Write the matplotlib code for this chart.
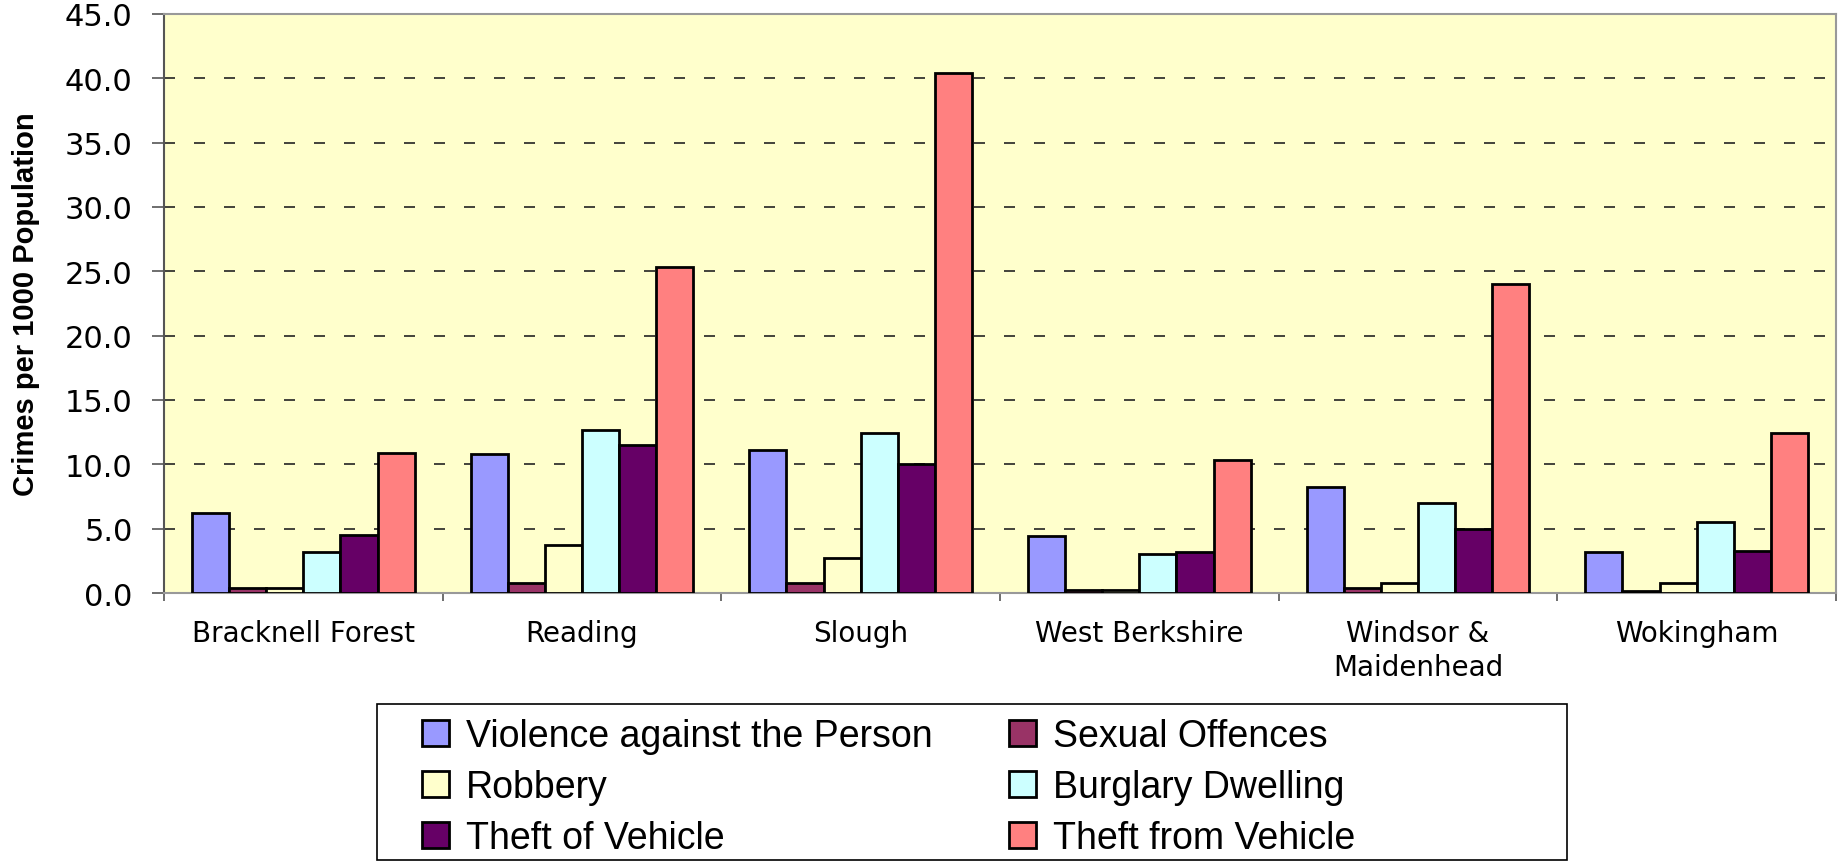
import matplotlib
matplotlib.use("Agg")
import matplotlib.pyplot as plt
from matplotlib.patches import Rectangle
import numpy as np

areas = ["Bracknell Forest", "Reading", "Slough", "West Berkshire",
         "Windsor &\nMaidenhead", "Wokingham"]
series_names = ["Violence against the Person", "Sexual Offences", "Robbery",
                "Burglary Dwelling", "Theft of Vehicle", "Theft from Vehicle"]
violence = [6.25, 10.8, 11.1, 4.45, 8.2, 3.15]
sexual = [0.4, 0.75, 0.75, 0.25, 0.4, 0.12]
robbery = [0.4, 3.7, 2.7, 0.25, 0.75, 0.75]
burglary = [3.15, 12.7, 12.4, 3.0, 7.0, 5.5]
theft_of = [4.5, 11.5, 10.0, 3.15, 4.95, 3.3]
theft_from = [10.9, 25.3, 40.4, 10.3, 24.0, 12.4]
yticks = [0, 5, 10, 15, 20, 25, 30, 35, 40, 45]

colors = ["#9999FF", "#993366", "#FFFFCC", "#CCFFFF", "#660066", "#FF8080"]
data = [violence, sexual, robbery, burglary, theft_of, theft_from]

W, H = 1838, 862
fig = plt.figure(figsize=(W / 100, H / 100), dpi=100)
ax = fig.add_axes([164 / W, 1 - 594 / H, (1836 - 164) / W, (594 - 15) / H])
ax.set_facecolor("#FFFFCC")

n = len(areas)
x = np.arange(n)
bw = 1.0 / 7.5
for i, (vals, c, name) in enumerate(zip(data, colors, series_names)):
    ax.bar(x + (i - 2.5) * bw, vals, width=bw, color=c, edgecolor="black",
           linewidth=2.0, label=name, zorder=3)

ax.set_xlim(-0.5, n - 0.5)
ax.set_ylim(0, 45)
ax.set_yticks(yticks)
ax.set_yticklabels([f"{v:.1f}" for v in yticks], fontsize=22,
                   fontfamily="DejaVu Sans")
for v in yticks[1:-1]:
    ax.axhline(v, color="#222222", linewidth=1.2,
               linestyle=(0, (6.6, 11.4)), zorder=1)

ax.set_xticks(np.arange(n + 1) - 0.5)
ax.set_xticklabels([])
ax.set_xticks(x, minor=True)
ax.set_xticklabels(areas, minor=True, fontsize=20, fontfamily="DejaVu Sans",
                   linespacing=1.25)
ax.tick_params(axis="x", which="minor", length=0, pad=19)
ax.tick_params(axis="x", which="major", length=6, width=1.2, color="#555555")
ax.tick_params(axis="y", length=8.6, width=1.2, color="#555555", pad=14)

for s in ["top", "right", "bottom"]:
    ax.spines[s].set_color("#999999")
    ax.spines[s].set_linewidth(1.5)
ax.spines["left"].set_color("#555555")
ax.spines["left"].set_linewidth(1.5)

ax.set_ylabel("Crimes per 1000 Population", fontsize=21, fontweight="bold",
              fontfamily="Liberation Sans", labelpad=18)

handles, labels = ax.get_legend_handles_labels()
order = [0, 2, 4, 1, 3, 5]
leg = fig.legend([handles[i] for i in order], [labels[i] for i in order],
                 ncol=2, loc="upper left",
                 bbox_to_anchor=(422 / W, 1 - 719 / H),
                 frameon=False, borderpad=0, borderaxespad=0,
                 prop={"family": "Liberation Sans", "size": 27},
                 handlelength=0.72, handleheight=0.68, handletextpad=0.45,
                 labelspacing=0.4, columnspacing=2.05)
for p in leg.get_patches():
    p.set_linewidth(2.0)
fig.patches.append(Rectangle((377 / W, 1.5 / H), (1567 - 377) / W, 156 / H,
                             transform=fig.transFigure, fill=False,
                             edgecolor="black", linewidth=1.2))

fig.savefig("out.png", dpi=100)
